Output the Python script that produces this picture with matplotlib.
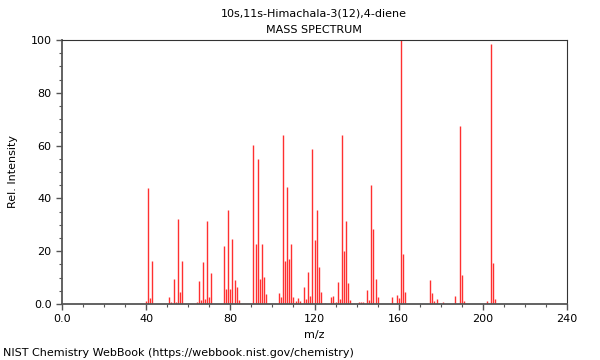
import matplotlib
matplotlib.use("Agg")
import matplotlib.pyplot as plt
from matplotlib.ticker import MultipleLocator

title = "10s,11s-Himachala-3(12),4-diene"
subtitle = "MASS SPECTRUM"
footer = "NIST Chemistry WebBook (https://webbook.nist.gov/chemistry)"

xticks = [0, 40, 80, 120, 160, 200, 240]
xticklabels = ["0.0", "40", "80", "120", "160", "200", "240"]
yticks = [0, 20, 40, 60, 80, 100]
yticklabels = ["0.0", "20", "40", "60", "80", "100"]

# m/z and relative intensity
mz = [40, 41, 42, 43, 51, 52, 53, 54, 55, 56, 57,
      64, 65, 66, 67, 68, 69, 70, 71,
      77, 78, 79, 80, 81, 82, 83, 84,
      91, 92, 93, 94, 95, 96, 97,
      103, 104, 105, 106, 107, 108, 109, 110, 111, 112, 113,
      115, 116, 117, 118, 119, 120, 121, 122, 123, 125,
      128, 129, 130, 131, 132, 133, 134, 135, 136, 137,
      141, 142, 143, 145, 146, 147, 148, 149, 150,
      157, 159, 160, 161, 162, 163,
      175, 176, 177, 178, 181, 187, 189, 190, 191,
      202, 204, 205, 206]
intensity = [1.3, 44, 2.3, 16.3, 2.8, 0.6, 9.6, 0.8, 32.3, 4.4, 16.3,
             0.6, 8.9, 1.4, 16, 1.8, 31.3, 2.8, 11.6,
             22, 5.6, 35.6, 5.8, 24.6, 9, 6.6, 1.4,
             60.1, 22.8, 54.9, 9.5, 22.8, 10.3, 3.7,
             4, 2.6, 64, 16.3, 44.3, 17, 22.6, 2.7, 1.1, 2.4, 1.2,
             6.3, 2, 12.2, 3, 58.7, 24.4, 35.6, 13.9, 4.5, 0.5,
             2.6, 3.1, 0.6, 8.3, 1.8, 64, 20, 31.6, 7.8, 1.5,
             0.8, 0.8, 0.8, 5.3, 1.5, 45, 28.4, 9.5, 2.6,
             2.6, 3.5, 2.4, 100, 19, 4.5,
             9, 4.2, 1.1, 1.9, 0.8, 3, 67.5, 11, 1.1,
             1.3, 98.4, 15.5, 1.8]

fig = plt.figure(figsize=(6, 3.6), dpi=100)
ax = fig.add_axes([62/600, 1-304/360, 505/600, 264/360])

ax.vlines(mz, 0, intensity, color="#ff3030", linewidth=1.0)

ax.set_xlim(0, 240)
ax.set_ylim(0, 100)
ax.set_xticks(xticks, xticklabels)
ax.set_yticks(yticks, yticklabels)
ax.xaxis.set_minor_locator(MultipleLocator(10))
ax.yaxis.set_minor_locator(MultipleLocator(5))

for s in ["left", "bottom"]:
    ax.spines[s].set_color("#555555")
    ax.spines[s].set_linewidth(1.3)
for s in ["top", "right"]:
    ax.spines[s].set_color("#333333")
    ax.spines[s].set_linewidth(0.8)

ax.tick_params(which="major", length=4, width=1, color="#555555", labelsize=8)
ax.tick_params(which="minor", length=2.5, width=0.8, color="#555555")

ax.set_xlabel("m/z", fontsize=8, labelpad=4)
ax.set_ylabel("Rel. Intensity", fontsize=8, labelpad=9)

fig.text(314/600, 1-13/360, title, ha="center", va="center", fontsize=8)
fig.text(314/600, 1-30/360, subtitle, ha="center", va="center", fontsize=8)
fig.text(3/600, 1-353/360, footer, ha="left", va="center", fontsize=8)

fig.savefig("out.png", dpi=100)
